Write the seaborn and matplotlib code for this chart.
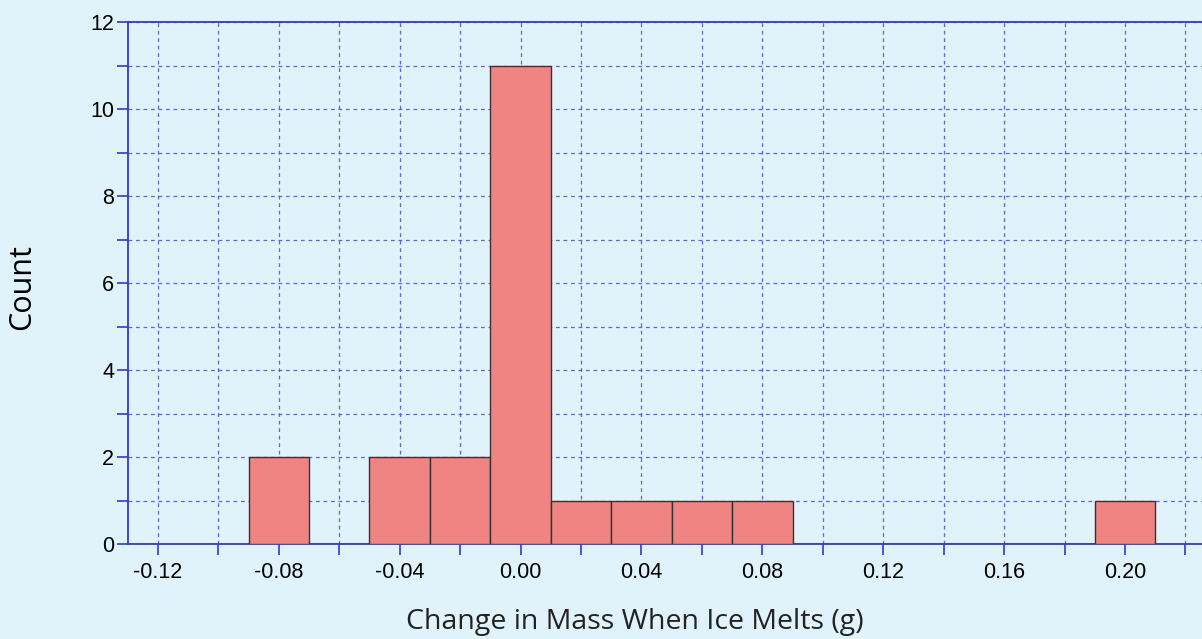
import pandas as pd
import matplotlib
matplotlib.use("Agg")
import matplotlib.pyplot as plt
import seaborn as sns
from matplotlib.ticker import MultipleLocator

# bin centres (g) and how many measurements fell in each bin
bin_centers = [-0.08, -0.04, -0.02, 0.00, 0.02, 0.04, 0.06, 0.08, 0.20]
bin_counts = [2, 2, 2, 11, 1, 1, 1, 1, 1]
bin_width = 0.02
bin_range = (-0.09, 0.21)

x_ticks = [-0.12, -0.08, -0.04, 0.00, 0.04, 0.08, 0.12, 0.16, 0.20]
y_ticks = [0, 2, 4, 6, 8, 10, 12]

BG = "#e0f2fa"
GRID = "#4a4ae6"
AXIS = "#3535d8"

sns.set_style("ticks")
plt.rcParams["font.family"] = ["Liberation Sans", "DejaVu Sans"]

df = pd.DataFrame({"change": bin_centers, "count": bin_counts})

fig = plt.figure(figsize=(12.02, 6.39), dpi=100, facecolor=BG)
ax = fig.add_axes([128 / 1202, 1 - 544 / 639, 1 - 128 / 1202, (544 - 22) / 639])
ax.set_facecolor(BG)

sns.histplot(data=df, x="change", weights="count", binwidth=bin_width,
             binrange=bin_range, color="#f08483", alpha=1.0,
             edgecolor="#333333", linewidth=1.0, ax=ax, zorder=3)

ax.set_xlim(-0.1299, 0.2255)
ax.set_ylim(0, 12)
ax.set_xticks(x_ticks)
ax.set_xticklabels([f"{v:.2f}" for v in x_ticks])
ax.xaxis.set_minor_locator(MultipleLocator(0.02))
ax.set_yticks(y_ticks)
ax.yaxis.set_minor_locator(MultipleLocator(1))

ax.grid(which="both", color=GRID, linestyle=(0, (3, 3)), linewidth=0.9, alpha=0.85)
ax.set_axisbelow(True)

for side in ["left", "bottom", "top"]:
    ax.spines[side].set_color(AXIS)
    ax.spines[side].set_linewidth(1.3)
ax.spines["right"].set_visible(False)

ax.tick_params(which="both", axis="x", direction="out", length=8, width=1.2,
               color=AXIS, labelcolor="black", labelsize=15.5, pad=5)
ax.tick_params(which="both", axis="y", direction="out", length=8, width=1.2,
               color=AXIS, labelcolor="black", labelsize=15.5, pad=2)

ax.set_xlabel("")
ax.set_ylabel("")
fig.text(635 / 1202, 1 - 622 / 639, "Change in Mass When Ice Melts (g)",
         ha="center", va="center", fontsize=20.5, color="#222222",
         family=["Open Sans", "DejaVu Sans"])
fig.text(22 / 1202, 1 - 287 / 639, "Count", rotation=90,
         ha="center", va="center", fontsize=22, color="black",
         family=["Open Sans", "DejaVu Sans"])

fig.savefig("out.png", dpi=100, facecolor=BG)
